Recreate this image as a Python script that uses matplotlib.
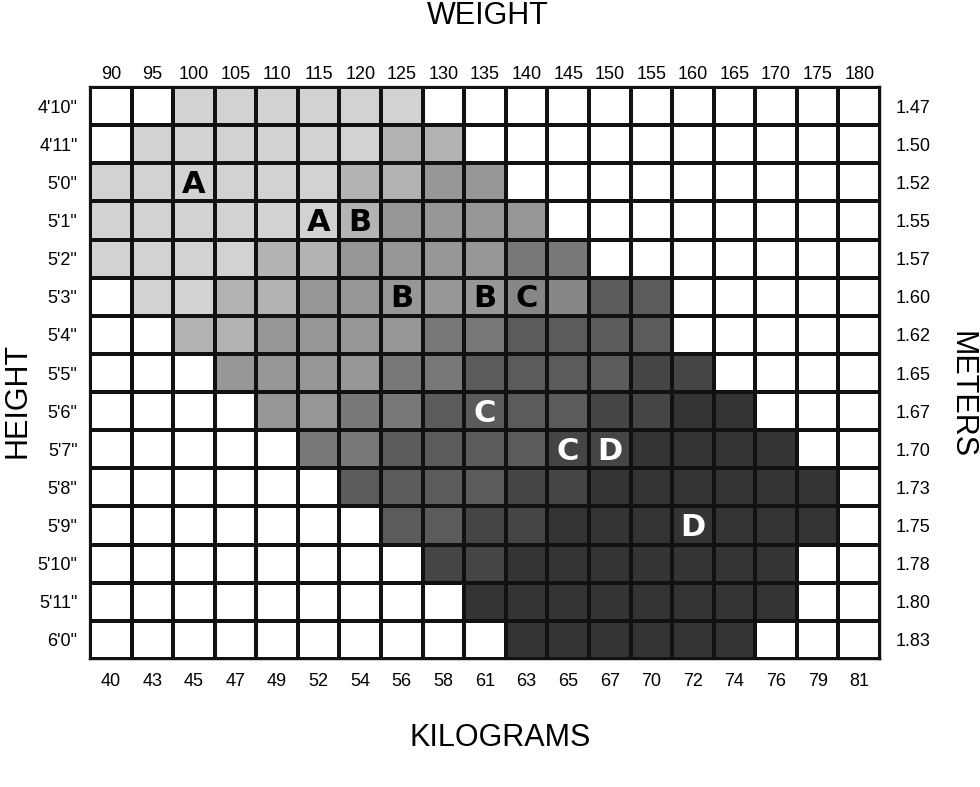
import numpy as np
import matplotlib.pyplot as plt
from matplotlib.colors import ListedColormap

# --- chart data ---
lbs = [90, 95, 100, 105, 110, 115, 120, 125, 130, 135,
       140, 145, 150, 155, 160, 165, 170, 175, 180]
kgs = [40, 43, 45, 47, 49, 52, 54, 56, 58, 61,
       63, 65, 67, 70, 72, 74, 76, 79, 81]
feet = ["4'10\"", "4'11\"", "5'0\"", "5'1\"", "5'2\"", "5'3\"", "5'4\"", "5'5\"",
        "5'6\"", "5'7\"", "5'8\"", "5'9\"", "5'10\"", "5'11\"", "6'0\""]
meters = ["1.47", "1.50", "1.52", "1.55", "1.57", "1.60", "1.62", "1.65",
          "1.67", "1.70", "1.73", "1.75", "1.78", "1.80", "1.83"]

# shade level of each cell, one string per height row, one char per weight column
shade_rows = [
    "0011111100000000000",
    "0111111220000000000",
    "1111112233000000000",
    "1111112333300000000",
    "1111223333440000000",
    "0112233333885500000",
    "0022333344555500000",
    "0003333445555660000",
    "0000334455556677000",
    "0000044555566777700",
    "0000005555667777770",
    "0000000556677777770",
    "0000000066777777700",
    "0000000007777777700",
    "0000000000777777000",
]
shades = ["#ffffff", "#d2d2d2", "#b3b3b3", "#979797", "#787878",
          "#5b5b5b", "#454545", "#343434", "#878787"]

# size letters: (row, col)
size_text = ["A", "A", "B", "B", "B", "C", "C", "C", "D", "D"]
size_row = [2, 3, 3, 5, 5, 5, 8, 9, 9, 11]
size_col = [2, 5, 6, 7, 9, 10, 9, 11, 12, 14]
size_color = ["black"] * 6 + ["white"] * 4

grid = np.array([[int(c) for c in r] for r in shade_rows])

plt.rcParams["font.family"] = ["Liberation Sans", "DejaVu Sans"]

fig = plt.figure(figsize=(9.8, 7.87), dpi=100)
ax = fig.add_axes([90 / 980, 1 - 659 / 787, 790 / 980, 572 / 787])

cmap = ListedColormap(shades)
ax.pcolormesh(np.arange(len(lbs) + 1), np.arange(len(feet) + 1), grid,
              cmap=cmap, vmin=-0.5, vmax=len(shades) - 0.5,
              edgecolors="#111111", linewidth=1.6)
ax.set_xlim(0, len(lbs))
ax.set_ylim(len(feet), 0)

for t, r, c, col in zip(size_text, size_row, size_col, size_color):
    ax.text(c + 0.5, r + 0.55, t, ha="center", va="center", color=col,
            fontsize=22, fontweight="bold", family=["DejaVu Sans"])

centers_x = np.arange(len(lbs)) + 0.5
centers_y = np.arange(len(feet)) + 0.5

ax.xaxis.tick_top()
ax.set_xticks(centers_x)
ax.set_xticklabels([str(v) for v in lbs], fontsize=13)
ax.set_yticks(centers_y)
ax.set_yticklabels(feet, fontsize=13)
ax.tick_params(axis="x", length=0, pad=3)
ax.tick_params(axis="y", length=0, pad=9)

secx = ax.secondary_xaxis("bottom")
secx.set_xticks(centers_x)
secx.set_xticklabels([str(v) for v in kgs], fontsize=13)
secx.tick_params(length=0, pad=10)

secy = ax.secondary_yaxis("right")
secy.set_yticks(centers_y)
secy.set_yticklabels(meters, fontsize=13)
secy.tick_params(length=0, pad=11)

for sp in list(ax.spines.values()) + list(secx.spines.values()) + list(secy.spines.values()):
    sp.set_linewidth(1.6)
    sp.set_color("#111111")

fig.text(488 / 980, 1 - 16 / 787, "WEIGHT", ha="center", va="center", fontsize=22)
fig.text(500 / 980, 1 - 738 / 787, "KILOGRAMS", ha="center", va="center", fontsize=22)
fig.text(17 / 980, 1 - 400 / 787, "HEIGHT", ha="center", va="center",
         rotation=90, fontsize=22)
fig.text(961 / 980, 1 - 395 / 787, "METERS", ha="center", va="center",
         rotation=-90, fontsize=22)

fig.savefig("out.png", dpi=100)
